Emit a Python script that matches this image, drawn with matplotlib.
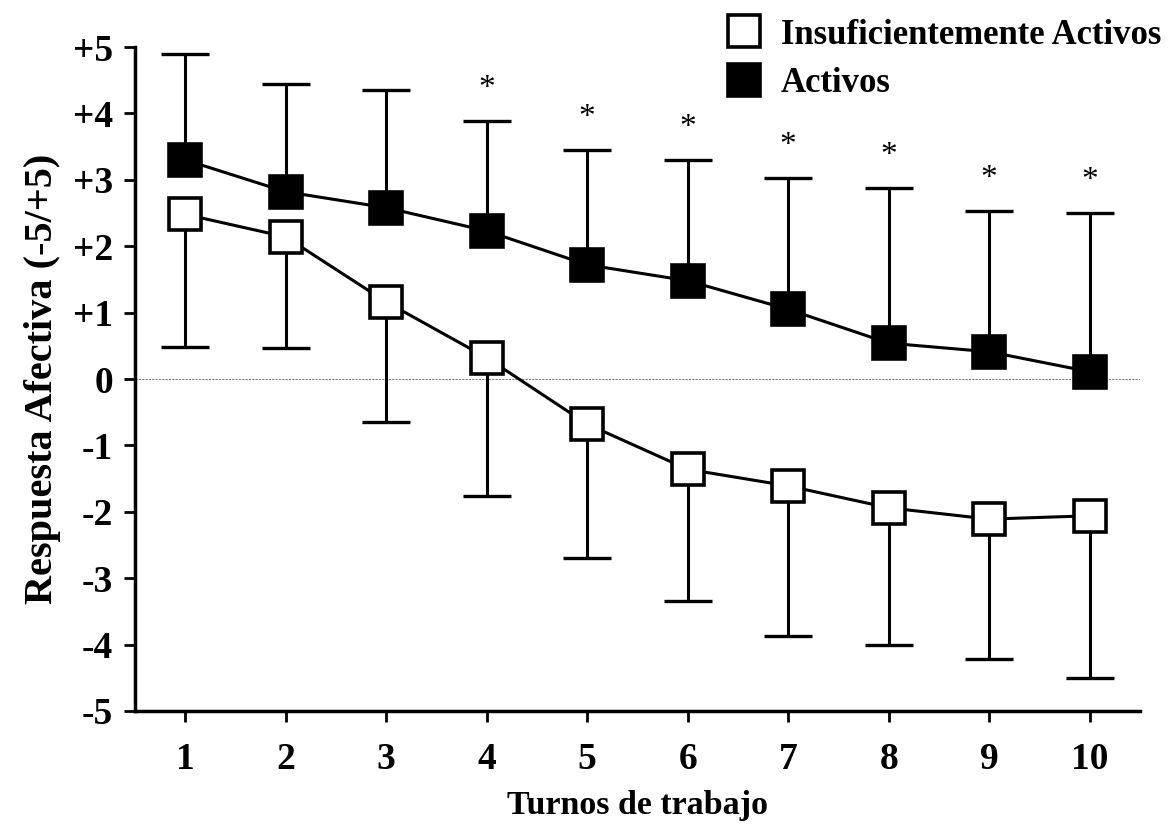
import numpy as np
import matplotlib.pyplot as plt

plt.rcParams['font.family'] = ['Liberation Serif', 'DejaVu Serif']
plt.rcParams['font.weight'] = 'bold'

turnos = np.arange(1, 11)
activos = [3.30, 2.82, 2.58, 2.23, 1.72, 1.48, 1.05, 0.54, 0.41, 0.11]
activos_sup = [4.89, 4.44, 4.35, 3.89, 3.45, 3.30, 3.03, 2.88, 2.53, 2.50]
insuf = [2.48, 2.14, 1.16, 0.32, -0.68, -1.36, -1.61, -1.94, -2.11, -2.06]
insuf_inf = [0.48, 0.47, -0.65, -1.76, -2.70, -3.34, -3.87, -4.01, -4.22, -4.50]
signif = [4, 5, 6, 7, 8, 9, 10]
ytick_labels = ['-5', '-4', '-3', '-2', '-1', '0', '+1', '+2', '+3', '+4', '+5']

fig = plt.figure(figsize=(11.68, 8.25), dpi=100)
ax = fig.add_axes([0.1156, 0.1382, 0.8604, 0.8048])

ax.axhline(0, color='gray', lw=0.8, ls=(0, (2, 1)), zorder=1)

# barras de error de un solo lado (sin tapa en la media)
ax.vlines(turnos, activos, activos_sup, color='black', lw=2.2, zorder=2)
ax.plot(turnos, activos_sup, ls='none', marker='_', ms=34, mew=2.4, color='black', zorder=2)
ax.vlines(turnos, insuf_inf, insuf, color='black', lw=2.2, zorder=2)
ax.plot(turnos, insuf_inf, ls='none', marker='_', ms=34, mew=2.4, color='black', zorder=2)

ax.plot(turnos, insuf, color='black', lw=2.2, marker='s', ms=23, mfc='white',
        mec='black', mew=2.6, label='Insuficientemente Activos', zorder=3)
ax.plot(turnos, activos, color='black', lw=2.2, marker='s', ms=23, mfc='black',
        mec='black', mew=2.6, label='Activos', zorder=3)

for t in signif:
    ax.annotate('*', (t, activos_sup[t - 1]), xytext=(0, 23), textcoords='offset points',
                ha='center', va='center', fontsize=24, fontweight='normal')

ax.set_xlim(0.5, 10.5)
ax.set_ylim(-5, 5)
ax.set_xticks(turnos)
ax.set_yticks(range(-5, 6))
ax.set_yticklabels(ytick_labels)
ax.tick_params(labelsize=27, width=2, length=8)
ax.tick_params(axis='x', pad=14)
ax.tick_params(axis='y', pad=8)
for s in ['top', 'right']:
    ax.spines[s].set_visible(False)
for s in ['left', 'bottom']:
    ax.spines[s].set_linewidth(2.5)

ax.set_xlabel('Turnos de trabajo', fontsize=24.5, fontweight='bold', labelpad=10)
ax.set_ylabel('Respuesta Afectiva (-5/+5)', fontsize=29, fontweight='bold', labelpad=8)

ax.legend(loc='upper right', bbox_to_anchor=(1.052, 1.09), frameon=False, fontsize=25,
          handlelength=1.0, handletextpad=0.55, labelspacing=0.45, numpoints=1,
          markerscale=1.02)
leg = ax.get_legend()
for line in leg.get_lines():
    line.set_linestyle('none')

fig.savefig('out.png', dpi=100)
